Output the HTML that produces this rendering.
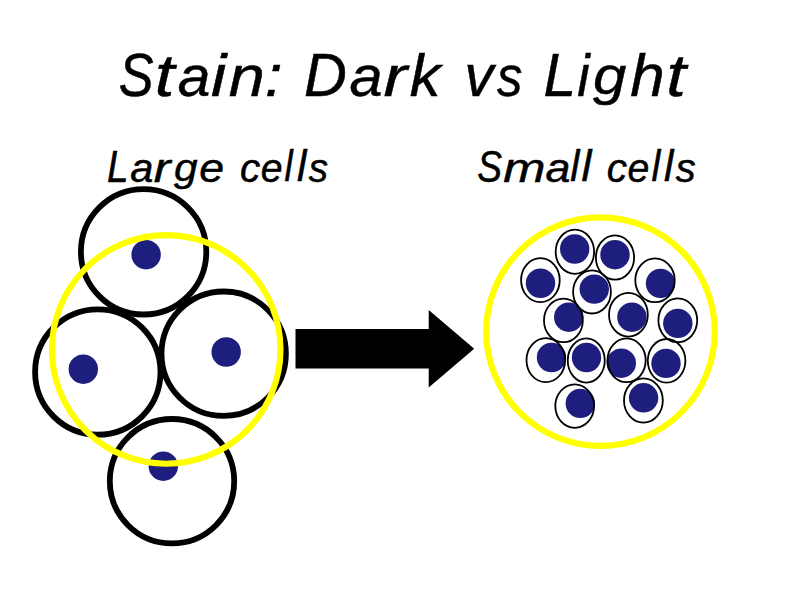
<!DOCTYPE html>
<html><head><meta charset="utf-8"><style>
html,body{margin:0;padding:0;background:#fff;width:800px;height:600px;overflow:hidden}
svg{display:block}
text{font-family:"Liberation Sans",sans-serif;font-style:italic;fill:#000;stroke:#000;stroke-width:0.5px}
</style></head><body>
<svg width="800" height="600" viewBox="0 0 800 600">
<text transform="translate(118.65,95.50) scale(0.842,1.000)" font-size="62">S</text><text transform="translate(154.81,95.50) scale(1.180,1.000)" font-size="60">t</text><text transform="translate(177.83,95.53) scale(0.977,0.958)" font-size="60">a</text><text transform="translate(211.09,95.50) scale(1.143,1.000)" font-size="60">i</text><text transform="translate(228.74,95.51) scale(1.080,0.957)" font-size="60">n</text><text transform="translate(264.66,95.51) scale(1.066,0.972)" font-size="60">:</text><text transform="translate(303.97,95.50) scale(0.956,1.000)" font-size="62">D</text><text transform="translate(349.41,95.53) scale(0.990,0.958)" font-size="60">a</text><text transform="translate(383.43,95.51) scale(1.180,0.957)" font-size="60">r</text><text transform="translate(409.78,95.50) scale(1.025,1.000)" font-size="60">k</text><text transform="translate(464.50,95.51) scale(0.967,0.972)" font-size="60">v</text><text transform="translate(497.00,95.53) scale(0.848,0.961)" font-size="60">s</text><text transform="translate(543.40,95.50) scale(0.944,1.000)" font-size="62">L</text><text transform="translate(577.26,95.50) scale(0.929,1.000)" font-size="60">i</text><text transform="translate(593.00,93.95) scale(1.000,0.909)" font-size="60">g</text><text transform="translate(630.17,95.50) scale(1.033,1.000)" font-size="60">h</text><text transform="translate(666.32,95.50) scale(1.180,1.000)" font-size="60">t</text>
<text transform="translate(107.07,181.50) scale(0.861,1.000)" font-size="45">L</text><text transform="translate(130.13,181.53) scale(0.968,0.946)" font-size="43">a</text><text transform="translate(153.70,181.51) scale(1.170,0.945)" font-size="43">r</text><text transform="translate(174.10,180.71) scale(0.987,0.910)" font-size="43">g</text><text transform="translate(199.35,181.53) scale(1.038,0.946)" font-size="43">e</text><text transform="translate(240.03,181.53) scale(0.942,0.946)" font-size="43">c</text><text transform="translate(260.71,181.53) scale(0.913,0.946)" font-size="43">e</text><text transform="translate(284.57,181.49) scale(0.858,1.038)" font-size="43">l</text><text transform="translate(297.01,181.49) scale(0.980,1.038)" font-size="43">l</text><text transform="translate(308.84,181.53) scale(0.897,0.950)" font-size="43">s</text><text transform="translate(477.19,181.50) scale(0.825,1.000)" font-size="45">S</text><text transform="translate(503.21,181.51) scale(1.180,0.945)" font-size="43">m</text><text transform="translate(545.57,181.53) scale(1.041,0.946)" font-size="43">a</text><text transform="translate(570.27,181.49) scale(0.956,1.038)" font-size="43">l</text><text transform="translate(581.58,181.49) scale(1.039,1.038)" font-size="43">l</text><text transform="translate(606.87,181.53) scale(0.945,0.946)" font-size="43">c</text><text transform="translate(627.56,181.53) scale(0.913,0.946)" font-size="43">e</text><text transform="translate(651.44,181.49) scale(0.917,1.038)" font-size="43">l</text><text transform="translate(663.91,181.49) scale(0.980,1.038)" font-size="43">l</text><text transform="translate(675.69,181.53) scale(0.928,0.950)" font-size="43">s</text>
<g fill="#1e1e7e">
<circle cx="146.1" cy="254.7" r="14.7"/>
<circle cx="83.3" cy="369.2" r="14.7"/>
<circle cx="226.2" cy="352" r="14.7"/>
<circle cx="163.3" cy="466.2" r="14.7"/>
</g>
<g fill="none" stroke="#000" stroke-width="5.8">
<circle cx="143.6" cy="251.8" r="62.7"/>
<circle cx="97.8" cy="372" r="62.7"/>
<circle cx="223.7" cy="353.7" r="62.2"/>
<circle cx="172" cy="481.2" r="62.2"/>
</g>
<circle cx="166.2" cy="349.4" r="114.3" fill="none" stroke="#ffff00" stroke-width="6.1"/>
<polygon points="295.5,329 428.7,329 428.7,310 474.2,348.7 428.7,387.5 428.7,368.5 295.5,368.5" fill="#000"/>
<circle cx="600.5" cy="331.6" r="114.3" fill="none" stroke="#ffff00" stroke-width="6.2"/>
<g fill="#1e1e7e"><circle cx="574.7" cy="249.0" r="14.7"/><circle cx="615.0" cy="254.7" r="14.7"/><circle cx="540.5" cy="283.25" r="14.7"/><circle cx="594.25" cy="289.1" r="14.7"/><circle cx="660.5" cy="283.4" r="14.7"/><circle cx="568.75" cy="317.2" r="14.7"/><circle cx="631.9" cy="317.2" r="14.7"/><circle cx="677.8" cy="323.4" r="14.7"/><circle cx="551.5" cy="357.5" r="14.7"/><circle cx="586.5" cy="357.5" r="14.7"/><circle cx="621.3" cy="363.2" r="14.7"/><circle cx="666.0" cy="363.4" r="14.7"/><circle cx="580.3" cy="403.4" r="14.7"/><circle cx="643.6" cy="397.8" r="14.7"/></g>
<g fill="none" stroke="#000" stroke-width="1.8"><ellipse cx="574.9" cy="251.75" rx="19.20" ry="22.10"/><ellipse cx="615.0" cy="257.5" rx="19.10" ry="22.20"/><ellipse cx="540.4" cy="280.2" rx="19.30" ry="22.00"/><ellipse cx="592.0" cy="291.9" rx="18.90" ry="21.60"/><ellipse cx="655.0" cy="280.3" rx="19.70" ry="21.90"/><ellipse cx="563.4" cy="320.4" rx="19.40" ry="21.80"/><ellipse cx="628.4" cy="314.7" rx="19.40" ry="21.90"/><ellipse cx="677.8" cy="320.3" rx="19.40" ry="21.90"/><ellipse cx="545.8" cy="360.2" rx="19.30" ry="22.00"/><ellipse cx="586.25" cy="360.5" rx="18.50" ry="22.10"/><ellipse cx="626.6" cy="360.3" rx="19.10" ry="21.90"/><ellipse cx="666.6" cy="360.8" rx="18.80" ry="21.80"/><ellipse cx="574.7" cy="406.1" rx="19.40" ry="21.70"/><ellipse cx="643.4" cy="400.5" rx="19.40" ry="22.10"/></g>
</svg>
</body></html>
